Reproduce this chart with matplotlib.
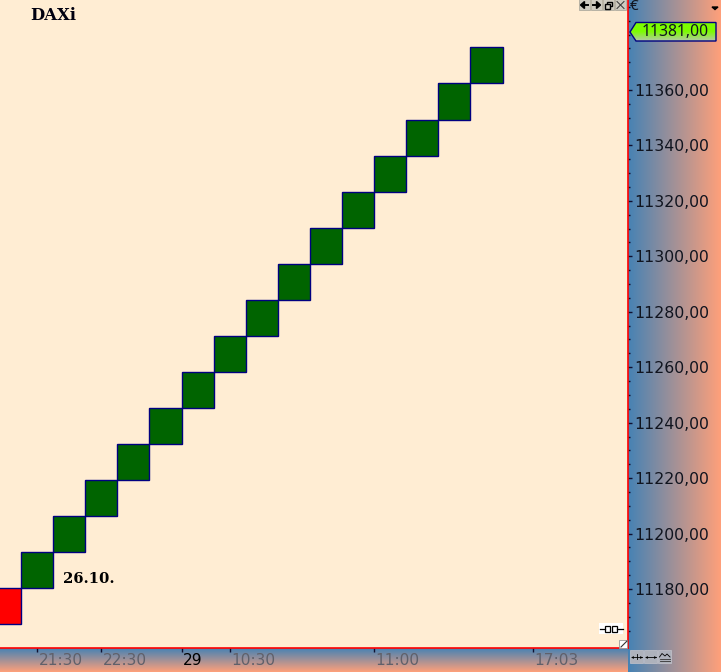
import numpy as np
import matplotlib
matplotlib.use("Agg")
import matplotlib.pyplot as plt
from matplotlib.patches import Rectangle, Polygon
from matplotlib.transforms import ScaledTranslation
from matplotlib.colors import LinearSegmentedColormap

# ---- data ----
brick_index = [0, 1, 2, 3, 4, 5, 6, 7, 8, 9, 10, 11, 12, 13, 14, 15]
brick_open = [11180.35, 11180.35, 11193.35, 11206.35, 11219.35, 11232.35, 11245.35, 11258.35,
              11271.35, 11284.35, 11297.35, 11310.35, 11323.35, 11336.35, 11349.35, 11362.35]
brick_close = [11167.35, 11193.35, 11206.35, 11219.35, 11232.35, 11245.35, 11258.35, 11271.35,
               11284.35, 11297.35, 11310.35, 11323.35, 11336.35, 11349.35, 11362.35, 11375.35]
y_ticks = [11180, 11200, 11220, 11240, 11260, 11280, 11300, 11320, 11340, 11360]
y_labels = ["11180,00", "11200,00", "11220,00", "11240,00", "11260,00",
            "11280,00", "11300,00", "11320,00", "11340,00", "11360,00"]
x_ticks = [1.0, 3.0, 5.5, 7.0, 11.5, 16.45]
x_labels = ["21:30", "22:30", "29", "10:30", "11:00", "17:03"]
last_price = "11381,00"
title = "DAXi"
date_label = "26.10."

W, H = 721, 672
AX_R, AX_B = 628, 648
BG = "#FFEDD3"
BLUE, SALMON = "#4682B4", "#FFA07A"
PX = 72 / 100
SANS = "Noto Sans"
SERIF = "DejaVu Serif"
BTN = "#CFCBC0"

fig = plt.figure(figsize=(W / 100, H / 100), dpi=100)

# gradient panels
bg = fig.add_axes([0, 0, 1, 1], zorder=0)
bg.set_xlim(0, W); bg.set_ylim(H, 0); bg.axis("off")
cm = LinearSegmentedColormap.from_list("g", [BLUE, SALMON])
grad = np.linspace(0, 1, 256)
bg.imshow(grad[:, None], extent=[0, AX_R, H, AX_B], cmap=cm, aspect="auto", zorder=1)
bg.imshow(grad[None, :], extent=[AX_R, W, H, 0], cmap=cm, aspect="auto", zorder=2)
bg.set_xlim(0, W); bg.set_ylim(H, 0)

# main chart
ax = fig.add_axes([0, 1 - AX_B / H, AX_R / W, AX_B / H], zorder=1)
ax.set_facecolor(BG)
ax.set_xlim(-5 / 32.1, 623 / 32.1)
ax.set_ylim(11360 - 558 / 2.772, 11360 + 90 / 2.772)
for i, o, c in zip(brick_index, brick_open, brick_close):
    col = "#006400" if c > o else "#FF0000"
    ax.add_patch(Rectangle((i - 0.5, min(o, c)), 1, abs(c - o), facecolor=col,
                           edgecolor="#000080", linewidth=1.0))
for s in ("top", "left"):
    ax.spines[s].set_visible(False)
for s in ("right", "bottom"):
    ax.spines[s].set_color("#FF0000")
    ax.spines[s].set_linewidth(1.2)

ax.yaxis.tick_right()
ax.set_yticks(y_ticks, y_labels)
ax.set_yticks(np.arange(11165, 11395, 5), minor=True)
ax.tick_params(axis="y", which="major", length=4 * PX, width=1, color="#101030",
               pad=1.4, labelsize=11.3, labelcolor="#10141f")
ax.tick_params(axis="y", which="minor", length=2.5 * PX, width=1, color="#101030")
ax.set_xticks(x_ticks, x_labels)
ax.tick_params(axis="x", length=4 * PX, width=1, color="#101030", pad=0.5, labelsize=11.1)
off = ScaledTranslation(1.5 / 100, 0, fig.dpi_scale_trans)
for lab, t in zip(ax.get_xticklabels(), x_labels):
    lab.set_ha("left")
    lab.set_transform(lab.get_transform() + off)
    lab.set_color("#000000" if t == "29" else "#60606a")

# overlay in pixel units for the window furniture
ov = fig.add_axes([0, 0, 1, 1], zorder=3)
ov.set_xlim(0, W); ov.set_ylim(H, 0); ov.axis("off")

ov.text(30, 15.5, title, family=SERIF, weight="bold", fontsize=11.8, color="#000010",
        va="center", ha="left")
ov.text(63, 579, date_label, family=SERIF, weight="bold", fontsize=10.6, color="black",
        va="center", ha="left")

# last price tag
tag = Polygon([(630, 32), (636, 22.5), (716, 22.5), (716, 41), (636, 41)], closed=True,
              facecolor="none", edgecolor="#000080", linewidth=1.0, zorder=6)
ov.add_patch(tag)
tagcm = LinearSegmentedColormap.from_list("t", ["#7CFC00", "#7CFC00", "#B4C8A8"])
im = ov.imshow(np.linspace(0, 1, 64)[:, None], extent=[630, 716, 41, 22.5], cmap=tagcm,
               aspect="auto", zorder=5)
clip = Polygon(tag.get_xy(), closed=True, transform=ov.transData)
im.set_clip_path(clip)
ov.set_xlim(0, W); ov.set_ylim(H, 0)
ov.text(642, 31.5, last_price, family=SANS, fontsize=11.3, color="#10141f", va="center",
        ha="left", zorder=7)
ov.text(630, 6, "€", family=SANS, fontsize=11, color="#10141f", va="center", ha="left")
ov.fill([712, 715, 718], [7, 9.5, 7], color="black")

# window buttons, top
for x0, m in zip([579, 591, 603, 615], ["<", ">", "s", "x"]):
    ov.add_patch(Rectangle((x0, -1), 11, 11, facecolor=BTN, edgecolor="#B0AC9F", lw=0.6))
    cx = x0 + 5.5
    if m == "<":
        ov.fill([cx - 4, cx, cx], [5, 1.5, 8.5], color="black")
        ov.plot([cx, cx + 3.5], [5, 5], color="black", lw=1.4)
    elif m == ">":
        ov.fill([cx + 4, cx, cx], [5, 1.5, 8.5], color="black")
        ov.plot([cx - 3.5, cx], [5, 5], color="black", lw=1.4)
    elif m == "s":
        ov.add_patch(Rectangle((cx - 1.5, 1.5), 5, 4.5, fc="none", ec="black", lw=1))
        ov.add_patch(Rectangle((cx - 3.5, 4), 5, 4.5, fc=BTN, ec="black", lw=1))
    else:
        ov.plot([cx - 3.5, cx + 3.5], [1.5, 8.5], color="#333", lw=0.7)
        ov.plot([cx - 3.5, cx + 3.5], [8.5, 1.5], color="#333", lw=0.7)

# plug icon
ov.add_patch(Rectangle((599, 623), 24, 11, facecolor="white", edgecolor="none"))
ov.plot([600, 605], [629, 629], color="black", lw=0.9)
ov.plot([617, 623], [629, 629], color="black", lw=0.9)
ov.add_patch(Rectangle((605, 625.5), 5, 6.5, fc="white", ec="black", lw=0.9))
ov.add_patch(Rectangle((612, 625.5), 5, 6.5, fc="white", ec="black", lw=0.9))

# corner resize box
ov.add_patch(Rectangle((619, 640), 8, 8, facecolor="white", edgecolor="#999", lw=0.6))
ov.plot([621, 627], [647, 641], color="#333", lw=0.8)

# scale buttons, bottom
for x0 in [630, 644, 658]:
    ov.add_patch(Rectangle((x0, 650), 13, 13, facecolor="#AEB2BC", edgecolor="#C4C4CC", lw=0.5))
for cx in [636.5, 650.5]:
    ov.plot([cx - 5, cx + 5], [656.5, 656.5], color="black", lw=0.6)
    ov.plot([cx - 4.5], [656.5], marker="<", ms=2, color="black", mew=0)
    ov.plot([cx + 4.5], [656.5], marker=">", ms=2, color="black", mew=0)
ov.plot([636.5, 636.5], [654, 659], color="black", lw=0.6)
ov.plot([659.5, 662, 665, 667, 670], [657, 653.5, 656, 654, 657], color="black", lw=0.6)
ov.plot([659.5, 670], [659, 659], color="#333", lw=0.6)
ov.plot([659.5, 670], [661, 661], color="#333", lw=0.6)

fig.savefig("out.png", dpi=100)
